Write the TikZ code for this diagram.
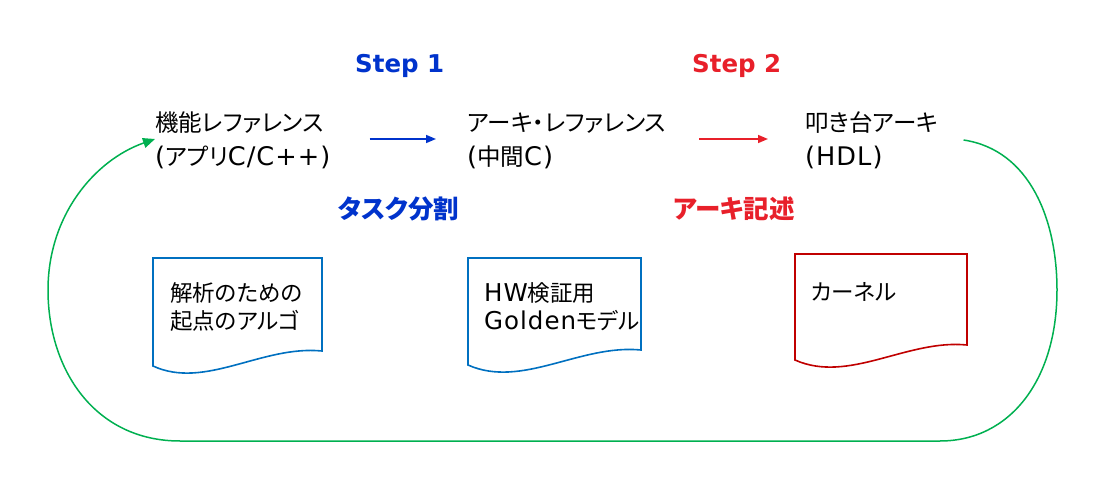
\documentclass[tikz,border=0pt]{standalone}
\usepackage{fontspec}
\setmainfont{Noto Sans CJK JP}[RawFeature=+palt]
\newfontfamily\stepfont{DejaVu Sans}
\newfontfamily\latinfont{DejaVu Sans}[Scale=1.09,LetterSpace=4]
\newcommand\latn[1]{{\latinfont #1}}
\usetikzlibrary{arrows.meta}
\definecolor{stepblue}{RGB}{0,51,204}
\definecolor{stepred}{RGB}{232,32,42}
\definecolor{docblue}{RGB}{0,112,192}
\definecolor{docred}{RGB}{192,0,0}
\definecolor{loopgreen}{RGB}{0,176,80}
\begin{document}
\begin{tikzpicture}[x=1pt,y=-1pt,
  maintext/.style={anchor=base west,inner sep=0pt,align=left,font=\fontsize{23.5}{34}\selectfont},
  doctext/.style={anchor=base west,inner sep=0pt,align=left,font=\fontsize{22.5}{28.5}\selectfont},
  steplabel/.style={anchor=base west,inner sep=0pt,font=\stepfont\bfseries\fontsize{24.5}{28}\selectfont},
  tasklabel/.style={anchor=base west,inner sep=0pt,font=\bfseries\fontsize{25.5}{28}\selectfont},
  steparrow/.style={line width=1.5pt,-{Triangle[length=10pt,width=8pt]}},
  docshape/.style={line width=1.6pt,line join=miter},
  looparrow/.style={line width=1.5pt,color=loopgreen,-{Triangle[length=12pt,width=10pt]}}]
\useasboundingbox (0,0) rectangle (1120,497);

% step labels
\node[steplabel,text=stepblue] (s1) at (355,73) {Step 1};
\node[steplabel,text=stepred] (s2) at (692,73) {Step 2};
\node[tasklabel,text=stepblue] (t1) at (338,219) {タスク分割};
\node[tasklabel,text=stepred] (t2) at (673,219) {アーキ記述};

% main texts (base = baseline of last line)
\node[maintext] (n1) at (155,166) {機能レファレンス\\\latn{(}アプリ\latn{C/C++)}};
\node[maintext] (n2) at (467,166) {アーキ・レファレンス\\\latn{(}中間\latn{C)}};
\node[maintext] (n3) at (805,166) {叩き台アーキ\\\latn{(HDL)}};

% step arrows
\draw[steparrow,color=stepblue,shorten <=39pt,shorten >=31pt] (n1.east |- 0,139) -- (n2.west |- 0,139);
\draw[steparrow,color=stepred,shorten <=33pt,shorten >=37pt] (n2.east |- 0,139) -- (n3.west |- 0,139);

% documents
\draw[docshape,docblue] (153,258) -- (322,258) -- (322,351)
  .. controls (262,345) and (205,390) .. (153,366) -- cycle;
\draw[docshape,docblue] (468,258) -- (641,258) -- (641,350)
  .. controls (580,344) and (522,389) .. (468,365) -- cycle;
\draw[docshape,docred] (795,254) -- (967,254) -- (967,345)
  .. controls (907,339) and (849,384) .. (795,360) -- cycle;

\node[doctext] (d1) at (170,330) {解析のための\\起点のアルゴ};
\node[doctext] (d2) at (484,330) {\latn{HW}検証用\\\latn{Golden}モデル};
\node[doctext] (d3) at (811,301) {カーネル};

% feedback loop
\draw[looparrow] (n3.east |- 0,140) ++(25,0)
  .. controls (1030,150) and (1057,220) .. (1057,290)
  .. controls (1057,380) and (1010,441) .. (940,441)
  -- (180,441)
  .. controls (95,441) and (48,370) .. (48,290)
  .. controls (48,215) and (95,160) .. (n1.west |- 0,139);
\end{tikzpicture}
\end{document}
